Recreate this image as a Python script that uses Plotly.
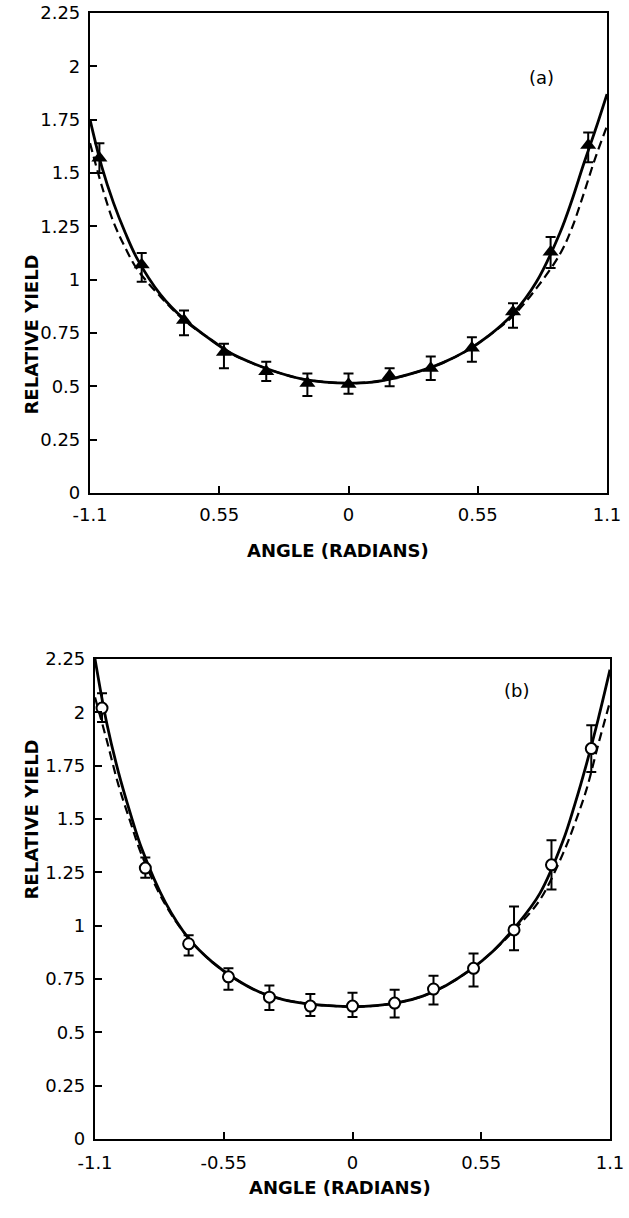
import plotly.graph_objects as go

# measured angles (radians) and relative yields, panel (a)
ang_a = [-1.06, -0.88, -0.70, -0.53, -0.35, -0.175, 0.0, 0.175, 0.35, 0.525, 0.70, 0.86, 1.02]
yld_a = [1.57, 1.07, 0.81, 0.66, 0.57, 0.515, 0.51, 0.55, 0.585, 0.68, 0.85, 1.13, 1.63]
err_a_up = [0.07, 0.055, 0.045, 0.04, 0.045, 0.045, 0.05, 0.035, 0.055, 0.05, 0.04, 0.07, 0.06]
err_a_dn = [0.07, 0.08, 0.07, 0.075, 0.045, 0.06, 0.045, 0.05, 0.055, 0.065, 0.075, 0.075, 0.08]

# panel (b)
ang_b = [-1.07, -0.885, -0.70, -0.53, -0.355, -0.18, 0.0, 0.18, 0.346, 0.517, 0.69, 0.85, 1.02]
yld_b = [2.02, 1.27, 0.915, 0.76, 0.665, 0.623, 0.623, 0.637, 0.703, 0.80, 0.98, 1.285, 1.83]
err_b_up = [0.07, 0.05, 0.04, 0.04, 0.055, 0.057, 0.062, 0.063, 0.062, 0.07, 0.11, 0.115, 0.11]
err_b_dn = [0.065, 0.045, 0.055, 0.06, 0.06, 0.046, 0.051, 0.067, 0.073, 0.085, 0.095, 0.115, 0.11]

# fitted curves
curve_x = [-1.1, -1.05, -1.0, -0.95, -0.9, -0.8, -0.7, -0.6, -0.5, -0.4, -0.3, -0.2, -0.1, 0.0,
           0.1, 0.2, 0.3, 0.4, 0.5, 0.6, 0.7, 0.8, 0.9, 0.95, 1.0, 1.05, 1.1]
solid_a = [1.75, 1.53, 1.36, 1.22, 1.10, 0.93, 0.815, 0.73, 0.655, 0.605, 0.565, 0.535, 0.52, 0.515,
           0.52, 0.54, 0.57, 0.61, 0.665, 0.74, 0.84, 0.99, 1.22, 1.37, 1.54, 1.70, 1.87]
dash_a = [1.64, 1.44, 1.27, 1.15, 1.05, 0.92, 0.81, 0.73, 0.655, 0.605, 0.565, 0.535, 0.52, 0.515,
          0.52, 0.54, 0.57, 0.61, 0.665, 0.74, 0.83, 0.96, 1.12, 1.24, 1.40, 1.57, 1.72]
solid_b = [2.25, 1.95, 1.72, 1.53, 1.36, 1.11, 0.94, 0.83, 0.75, 0.69, 0.655, 0.635, 0.625, 0.62,
           0.625, 0.64, 0.67, 0.72, 0.79, 0.88, 1.0, 1.15, 1.40, 1.57, 1.76, 1.97, 2.2]
dash_b = [2.07, 1.87, 1.66, 1.49, 1.33, 1.10, 0.94, 0.83, 0.75, 0.69, 0.655, 0.635, 0.625, 0.62,
          0.625, 0.64, 0.67, 0.72, 0.79, 0.88, 0.99, 1.12, 1.34, 1.48, 1.64, 1.85, 2.05]

x_ticks = [-1.1, -0.55, 0, 0.55, 1.1]
x_text_a = ["-1.1", "0.55", "0", "0.55", "1.1"]
x_text_b = ["-1.1", "-0.55", "0", "0.55", "1.1"]
y_ticks = [0, 0.25, 0.5, 0.75, 1, 1.25, 1.5, 1.75, 2, 2.25]
y_text = ["0", "0.25", "0.5", "0.75", "1", "1.25", "1.5", "1.75", "2", "2.25"]

FONT = "DejaVu Sans"
W, H = 629, 1218

fig = go.Figure()

for xa, ya, solid, dash in [("x", "y", solid_a, dash_a), ("x2", "y2", solid_b, dash_b)]:
    fig.add_trace(go.Scatter(x=curve_x, y=dash, mode="lines", line_shape="spline",
                             line=dict(color="black", width=2.2, dash="9px,5px"),
                             xaxis=xa, yaxis=ya, showlegend=False))
    fig.add_trace(go.Scatter(x=curve_x, y=solid, mode="lines", line_shape="spline",
                             line=dict(color="black", width=2.8),
                             xaxis=xa, yaxis=ya, showlegend=False))

fig.add_trace(go.Scatter(
    x=ang_a, y=yld_a, mode="markers", xaxis="x", yaxis="y", showlegend=False,
    marker=dict(symbol="triangle-up", size=14, color="black"),
    error_y=dict(type="data", array=err_a_up, arrayminus=err_a_dn, color="black", thickness=2, width=5)))
fig.add_trace(go.Scatter(
    x=ang_b, y=yld_b, mode="markers", xaxis="x2", yaxis="y2", showlegend=False,
    marker=dict(symbol="circle", size=11, color="white", line=dict(color="black", width=2)),
    error_y=dict(type="data", array=err_b_up, arrayminus=err_b_dn, color="black", thickness=2, width=5)))

axis_common = dict(showgrid=False, zeroline=False, showline=True, mirror=True, automargin=False,
                   linecolor="black", linewidth=2.2, ticks="inside", ticklen=7,
                   tickcolor="black", tickwidth=1.8, ticklabeloverflow="allow",
                   tickfont=dict(family=FONT, size=18, color="black"))


def px_x(p):
    return p / W


def px_y(p):
    return 1 - p / H


title_font = dict(family=FONT, size=18, color="black", weight="bold")

fig.update_layout(
    width=W, height=H,
    margin=dict(l=0, r=0, t=0, b=0),
    paper_bgcolor="white", plot_bgcolor="white",
    xaxis=dict(domain=[px_x(90), px_x(607)], range=[-1.1, 1.1], anchor="y",
               tickvals=x_ticks, ticktext=x_text_a, ticklabelstandoff=4, **axis_common),
    yaxis=dict(domain=[px_y(493), px_y(13)], range=[0, 2.25], anchor="x",
               tickvals=y_ticks, ticktext=y_text, ticklabelstandoff=4, **axis_common),
    xaxis2=dict(domain=[px_x(95), px_x(610)], range=[-1.1, 1.1], anchor="y2",
                tickvals=x_ticks, ticktext=x_text_b, ticklabelstandoff=6, **axis_common),
    yaxis2=dict(domain=[px_y(1139), px_y(659)], range=[0, 2.25], anchor="x2",
                tickvals=y_ticks, ticktext=y_text, ticklabelstandoff=4, **axis_common),
    annotations=[
        dict(text="(a)", x=0.82, y=1.95, xref="x", yref="y", showarrow=False,
             font=dict(family=FONT, size=18, color="black")),
        dict(text="(b)", x=0.70, y=2.10, xref="x2", yref="y2", showarrow=False,
             font=dict(family=FONT, size=18, color="black")),
        dict(text="ANGLE (RADIANS)", x=px_x(338), y=px_y(551), xref="paper", yref="paper",
             showarrow=False, font=title_font),
        dict(text="ANGLE (RADIANS)", x=px_x(340), y=px_y(1200), xref="paper", yref="paper",
             showarrow=False, font=title_font),
        dict(text="RELATIVE YIELD", x=px_x(18), y=px_y(253), xref="paper", yref="paper",
             showarrow=False, textangle=-90, font=title_font),
        dict(text="RELATIVE YIELD", x=px_x(18), y=px_y(902), xref="paper", yref="paper",
             showarrow=False, textangle=-90, font=title_font),
    ],
)

# drop the browser's default 8px body margin so the figure sits at the page corner
fig.write_html("out.html", config={"displayModeBar": False},
               post_script="document.body.style.margin='0';")
